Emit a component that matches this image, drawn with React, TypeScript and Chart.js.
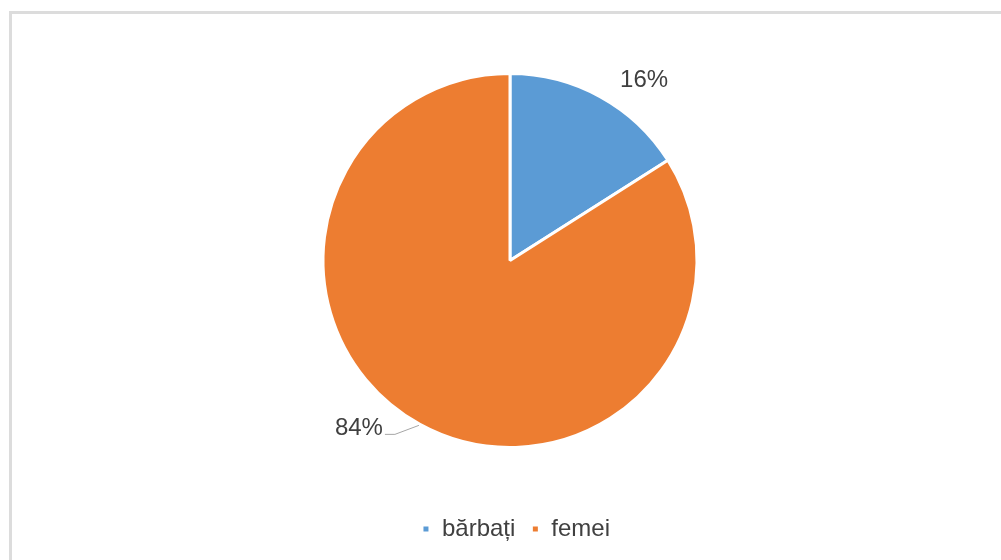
import React, { useEffect, useRef } from "react";
import { Chart, registerables } from "chart.js";

Chart.register(...registerables);

const categories = ["bărbați", "femei"];
const shares = [16, 84];
const sliceColors = ["#5B9BD5", "#ED7D31"];

const FONT = "'Liberation Sans', Arial, sans-serif";
const TEXT_COLOR = "#404040";

// label placement relative to the slice's outer edge at its mid angle
const LABEL_OFFSETS = [
  { dx: 44, dy: -10, leader: false },
  { dx: -61, dy: 11, leader: true },
];

const labelPlugin = {
  id: "pctLabels",
  afterDatasetsDraw(chart: any) {
    const ctx = chart.ctx as CanvasRenderingContext2D;
    const meta = chart.getDatasetMeta(0);
    const data = chart.data.datasets[0].data as number[];
    const total = data.reduce((a, b) => a + b, 0);
    meta.data.forEach((arc: any, i: number) => {
      const { x, y, startAngle, endAngle, outerRadius } = arc.getProps(
        ["x", "y", "startAngle", "endAngle", "outerRadius"],
        true
      );
      const mid = (startAngle + endAngle) / 2;
      const ex = x + Math.cos(mid) * outerRadius;
      const ey = y + Math.sin(mid) * outerRadius;
      const off = LABEL_OFFSETS[i];
      const tx = ex + off.dx;
      const ty = ey + off.dy;
      const text = Math.round((data[i] / total) * 100) + "%";
      ctx.save();
      ctx.font = `24px ${FONT}`;
      ctx.fillStyle = TEXT_COLOR;
      ctx.textAlign = "center";
      ctx.textBaseline = "alphabetic";
      ctx.fillText(text, tx, ty);
      if (off.leader) {
        const w = ctx.measureText(text).width;
        const lx = tx + w / 2 + 2;
        const ly = ty - 1;
        ctx.strokeStyle = "#a6a6a6";
        ctx.lineWidth = 1;
        ctx.beginPath();
        ctx.moveTo(lx, ly);
        ctx.lineTo(lx + 10, ly);
        ctx.lineTo(ex - 1, ey + 1);
        ctx.stroke();
      }
      ctx.restore();
    });
  },
};

export default function App() {
  const ref = useRef<HTMLCanvasElement | null>(null);
  useEffect(() => {
    if (!ref.current) return;
    const chart = new Chart(ref.current, {
      type: "pie",
      data: {
        labels: categories,
        datasets: [
          {
            data: shares,
            backgroundColor: sliceColors,
            borderColor: "#ffffff",
            borderWidth: 3,
          },
        ],
      },
      options: {
        animation: false,
        responsive: false,
        maintainAspectRatio: false,
        layout: { padding: { top: 72, bottom: 9, left: 31, right: 0 } },
        plugins: {
          tooltip: { enabled: false },
          title: {
            display: true,
            text: " ",
            position: "bottom",
            weight: 500,
            font: { size: 10, lineHeight: 1 },
            padding: { top: 21, bottom: 21 },
          },
          subtitle: {
            display: true,
            text: " ",
            position: "right",
            fullSize: false,
            font: { size: 10, lineHeight: 1 },
            padding: { top: 1, bottom: 1 },
          },
          legend: {
            position: "bottom",
            labels: {
              boxWidth: 8,
              boxHeight: 8,
              padding: 16,
              color: TEXT_COLOR,
              font: { size: 24, family: FONT },
            },
          },
        },
      },
      plugins: [labelPlugin],
    });
    return () => chart.destroy();
  }, []);

  return (
    <div style={{ position: "fixed", left: 0, top: 0, width: 1001, height: 560, overflow: "hidden", background: "#fff" }}>
      <div
        style={{
          position: "absolute",
          left: 9,
          top: 11,
          width: 1200,
          height: 800,
          borderTop: "3px solid #dcdcdc",
          borderLeft: "3px solid #dcdcdc",
        }}
      />
      <canvas ref={ref} width={1001} height={560} style={{ position: "absolute", left: 0, top: 0, width: 1001, height: 560 }} />
    </div>
  );
}
